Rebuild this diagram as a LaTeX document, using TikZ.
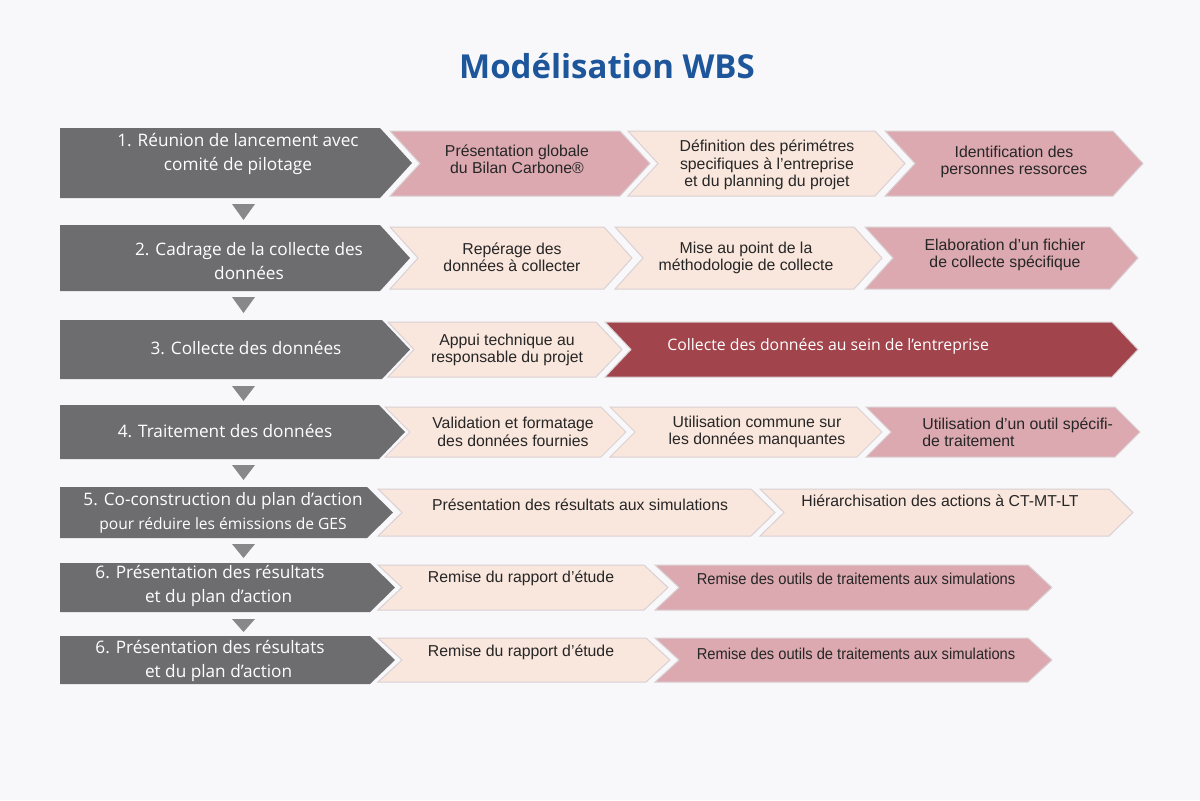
\documentclass[tikz,border=0pt]{standalone}
\usepackage{fontspec}
\setmainfont{Liberation Sans}
\newfontfamily\grayfont{Open Sans}
\newfontfamily\titlefont{Open Sans}
\newfontfamily\narrowfont{Liberation Sans}[FakeStretch=0.93]
\definecolor{bg}{HTML}{F8F7F9}
\definecolor{gfill}{HTML}{6D6D6F}
\definecolor{tcol}{HTML}{88888A}
\definecolor{pinkc}{HTML}{DBA9AF}
\definecolor{peachc}{HTML}{F9E6DC}
\definecolor{darkc}{HTML}{A2444C}
\definecolor{edgec}{HTML}{D9D1D4}
\definecolor{titlec}{HTML}{1D569B}
\tikzset{
  graybox/.style={fill=gfill},
  pinkbox/.style={fill=pinkc,draw=edgec,line width=0.5pt},
  peachbox/.style={fill=peachc,draw=edgec,line width=0.5pt},
  darkbox/.style={fill=darkc,draw=edgec,line width=0.5pt},
  tri/.style={fill=tcol},
  gl/.style={text=white,font=\grayfont\fontsize{8.6}{12}\selectfont,align=center,inner sep=0pt},
  cl/.style={text=black!85,font=\fontsize{7.9}{8.7}\selectfont,align=center,inner sep=0pt},
  dl/.style={text=white,font=\grayfont\fontsize{7.9}{9}\selectfont,align=left,inner sep=0pt},
  nl/.style={text=black!85,font=\narrowfont\fontsize{7.9}{8.7}\selectfont,inner sep=0pt},
}
\newcommand\chv[6]{%
  \path[#6] (#1,#3) -- ({#2-#5},#3) -- (#2,{(#3+#4)/2}) -- ({#2-#5},#4) -- (#1,#4) -- ({#1+#5},{(#3+#4)/2}) -- cycle;}
\newcommand\gbx[5]{%
  \path[graybox] (#1,#3) -- ({#2-#5},#3) -- (#2,{(#3+#4)/2}) -- ({#2-#5},#4) -- (#1,#4) -- cycle;}
\newcommand\tri[2]{%
  \path[tri] (232,#1) -- (255,#1) -- (243.5,#2) -- cycle;}
\begin{document}
\begin{tikzpicture}[x=0.5pt,y=-0.5pt]
\fill[bg] (0,0) rectangle (1200,800);
\useasboundingbox (0,0) rectangle (1200,800);
\node[font=\titlefont\bfseries\fontsize{16.5}{18}\selectfont,text=titlec,inner sep=0pt] (title) at (607,66) {Modélisation WBS};
% Row 1
\gbx{60}{412}{128}{198}{32}
\chv{390}{650}{131}{196}{30}{pinkbox}
\chv{628}{905}{131}{196}{30}{peachbox}
\chv{885}{1143}{131}{196}{30}{pinkbox}
\node[gl] (g1) at (238,154) {1. Réunion de lancement avec\\comité de pilotage};
\node[cl] (c11) at (517,159) {Présentation globale\\du Bilan Carbone®};
\node[cl] (c12) at (767,165) {Définition des périmétres\\specifiques à l'entreprise\\et du planning du projet};
\node[cl] (c13) at (1014,162) {Identification des\\personnes ressorces};
\tri{204}{220}
% Row 2
\gbx{60}{410}{225}{291}{30}
\chv{390}{632}{227}{289}{28}{peachbox}
\chv{615}{882}{227}{289}{28}{peachbox}
\chv{865}{1138}{227}{289}{28}{pinkbox}
\node[gl] (g2) at (249,261) {2. Cadrage de la collecte des\\données};
\node[cl] (c21) at (512,257) {Repérage des\\données à collecter};
\node[cl] (c22) at (746,258) {Mise au point de la\\méthodologie de collecte};
\node[cl] (c23) at (1005,255) {Elaboration d'un fichier\\de collecte spécifique};
\tri{297}{313}
% Row 3
\gbx{60}{410}{320}{379}{28}
\chv{388}{622}{322}{377}{26}{peachbox}
\chv{605}{1138}{322}{377}{26}{darkbox}
\node[gl] (g3) at (246,348) {3. Collecte des données};
\node[cl] (c31) at (507,350) {Appui technique au\\responsable du projet};
\node[dl,anchor=west] (c32) at (667,346) {Collecte des données au sein de l’entreprise};
\tri{386}{401}
% Row 4
\gbx{60}{405}{405}{459}{26}
\chv{385}{626}{407}{457}{25}{peachbox}
\chv{610}{882}{407}{457}{25}{peachbox}
\chv{866}{1140}{407}{457}{25}{pinkbox}
\node[gl] (g4) at (225,431) {4. Traitement des données};
\node[cl] (c41) at (513,432) {Validation et formatage\\des données fournies};
\node[cl] (c42) at (757,432) {Utilisation commune sur\\les données manquantes};
\node[cl,align=left,anchor=west] (c43) at (922,432) {Utilisation d’un outil spécifi-\\ de traitement};
\tri{465}{480}
% Row 5
\gbx{60}{393}{487}{538}{26}
\chv{378}{775}{489}{536}{24}{peachbox}
\chv{760}{1133}{489}{536}{24}{peachbox}
\node[gl] (g5) at (223,513) {5. Co-construction du plan d’action\\{\fontsize{7.8}{12}\selectfont pour réduire les émissions de GES}};
\node[cl] (c51) at (580,505) {Présentation des résultats aux simulations};
\node[cl] (c52) at (940,501) {Hiérarchisation des actions à CT-MT-LT};
\tri{544}{558}
% Row 6
\gbx{60}{395}{563}{612}{25}
\chv{378}{668}{565}{610}{24}{peachbox}
\chv{655}{1052}{565}{610}{24}{pinkbox}
\node[gl] (g6) at (210,586) {6. Présentation des résultats\\ \quad et du plan d’action};
\node[cl] (c61) at (521,578) {Remise du rapport d’étude};
\node[nl] (c62) at (856,579) {Remise des outils de traitements aux simulations};
\tri{619}{632}
% Row 7
\gbx{60}{395}{636}{684}{25}
\chv{378}{670}{638}{682}{24}{peachbox}
\chv{655}{1052}{638}{682}{24}{pinkbox}
\node[gl] (g7) at (210,661) {6. Présentation des résultats\\ \quad et du plan d’action};
\node[cl] (c71) at (521,652) {Remise du rapport d’étude};
\node[nl] (c72) at (856,654) {Remise des outils de traitements aux simulations};
\end{tikzpicture}
\end{document}
